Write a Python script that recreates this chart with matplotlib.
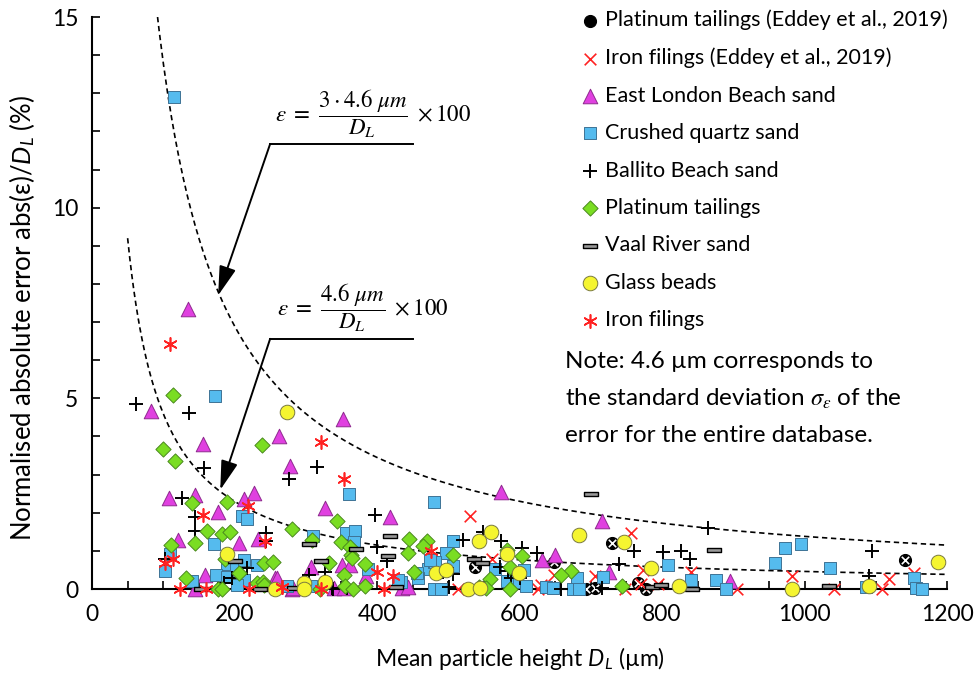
import numpy as np
import matplotlib
matplotlib.use("Agg")
import matplotlib.pyplot as plt
from matplotlib.path import Path

plt.rcParams['font.family'] = ['Lato', 'DejaVu Sans']
plt.rcParams['mathtext.fontset'] = 'custom'
plt.rcParams['mathtext.rm'] = 'Lato'
plt.rcParams['mathtext.it'] = 'Lato:italic'

# ---------------- data ----------------
eddey_pt_x = [538, 649, 693, 706, 730, 766, 777, 1141]
eddey_pt_y = [0.57, 0.71, 0.0, 0.02, 1.2, 0.17, 0.0, 0.75]

eddey_fe_x = [530, 562, 649, 706, 757, 774, 841, 514, 626, 630, 748, 770, 794, 905,
              982, 1041, 1109, 1118, 1153]
eddey_fe_y = [1.91, 0.78, 0.37, 0.34, 1.46, 0.5, 0.45, 0.0, 0.0, 0.1, 0.0, 0.13, 0.13, 0.0,
              0.34, 0.0, 0.0, 0.26, 0.43]

eastlondon_x = [135, 83, 263, 156, 278, 108, 144, 177, 214, 227, 207, 120, 233, 158, 257,
                145, 280, 352, 327, 418, 351, 362, 307, 385, 259, 282, 339, 354, 435, 444,
                574, 716, 632, 650, 725, 896]
eastlondon_y = [7.34, 4.68, 4.01, 3.8, 3.23, 2.38, 2.46, 2.03, 2.37, 2.53, 1.2, 1.29, 1.3, 0.38, 0.29,
                0.0, 0.0, 4.46, 2.13, 1.89, 0.63, 0.64, 0.57, 0.33, 0.28, 0.02, 0.02, 0.02, 0.02, 0.06,
                2.54, 1.79, 0.76, 0.9, 0.45, 0.21]

quartz_x = [115, 172, 210, 217, 171, 110, 103, 190, 202, 213, 231, 174, 189, 213, 140, 203,
            360, 480, 310, 357, 369, 368, 387, 471, 480, 434, 457, 273, 308, 507, 497, 481,
            506, 566, 592, 583, 607, 609, 681, 717, 480, 490, 637, 647, 675, 684, 808, 840,
            876, 890, 958, 973, 995, 1036, 1153, 1086, 1156, 1165, 430, 456, 474]
quartz_y = [12.9, 5.06, 1.91, 1.84, 1.17, 0.91, 0.47, 0.65, 0.61, 0.76, 0.63, 0.37, 0.31, 0.24, 0.21, 0.1,
            2.49, 2.27, 1.38, 1.46, 1.52, 1.24, 0.53, 0.52, 0.71, 0.18, 0.3, 0.07, 0.08, 1.26, 0.94, 0.7,
            0.61, 0.53, 0.18, 0.22, 0.5, 0.08, 0.28, 0.31, 0.0, 0.0, 0.05, 0.03, 0.0, 0.0, 0.63, 0.24,
            0.24, 0.0, 0.67, 1.08, 1.18, 0.56, 0.28, 0.04, 0.02, 0.0, 0.24, 0.41, 0.76]

ballito_x = [62, 136, 157, 276, 316, 126, 145, 145, 102, 218, 244, 244, 196, 185, 338, 397,
             400, 414, 327, 305, 337, 358, 549, 574, 520, 604, 624, 493, 507, 573, 588, 601,
             501, 658, 716, 864, 761, 802, 826, 839, 739, 1095, 1090, 584]
ballito_y = [4.85, 4.62, 3.17, 2.88, 3.2, 2.38, 1.89, 1.52, 0.79, 0.54, 1.46, 1.26, 0.28, 0.17, 0.0, 1.95,
             1.09, 0.74, 0.45, 0.36, 0.02, 0.02, 1.5, 1.27, 1.29, 1.08, 0.94, 0.45, 0.4, 0.58, 0.3, 0.3,
             0.05, 0.0, 0.02, 1.59, 1.0, 0.98, 1.0, 0.78, 0.66, 0.99, 0.34, 0.46]

pt_x = [114, 239, 100, 117, 141, 190, 162, 183, 194, 145, 111, 186, 206, 242, 254, 132,
        231, 240, 177, 183, 320, 344, 280, 309, 350, 362, 363, 365, 445, 470, 464, 443,
        333, 383, 452, 354, 242, 355, 366, 383, 506, 582, 603, 587, 559, 672, 658, 586,
        543, 553, 744]
pt_y = [5.1, 3.77, 3.68, 3.35, 2.26, 2.28, 1.53, 1.44, 1.5, 1.21, 1.15, 0.78, 0.43, 0.68, 0.72, 0.29,
        0.15, 0.19, 0.0, 0.0, 0.0, 1.78, 1.57, 1.29, 1.22, 1.11, 0.89, 0.8, 1.31, 1.27, 1.14, 0.95,
        0.67, 0.66, 0.45, 0.36, 0.1, 0.07, 0.0, 0.07, 0.89, 1.01, 0.86, 0.58, 0.26, 0.48, 0.37, 0.0,
        0.05, 0.03, 0.09]

vaal_x = [201, 236, 305, 371, 418, 416, 321, 284, 426, 701, 536, 548, 873, 786, 798, 842, 1035, 153]
vaal_y = [0.73, 0.0, 1.17, 1.05, 1.4, 0.87, 0.73, 0.02, 0.06, 2.49, 0.78, 0.69, 1.01, 0.06, 0.1, 0.0, 0.08, 0.0]

glass_x = [273, 190, 297, 297, 327, 257, 560, 543, 684, 582, 483, 497, 599, 528, 545, 746,
           785, 824, 983, 1091, 1188]
glass_y = [4.63, 0.93, 0.15, 0.0, 0.18, 0.0, 1.49, 1.27, 1.42, 0.92, 0.41, 0.5, 0.41, 0.0, 0.02, 1.22,
           0.54, 0.07, 0.0, 0.08, 0.7]

iron_x = [109, 321, 353, 156, 219, 243, 103, 114, 124, 160, 220, 266, 322, 267, 400, 422, 410, 476]
iron_y = [6.43, 3.86, 2.88, 1.94, 2.18, 1.25, 0.67, 0.79, 0.0, 0.0, 0.0, 0.06, 0.0, 0.05, 0.45, 0.35, 0.0, 1.0]

sigma = 4.6
lower_x = np.linspace(50, 1200, 400)
upper_x = np.linspace(92, 1200, 400)

# ---------------- figure ----------------
fig = plt.figure(figsize=(9.76, 6.74), dpi=100)
ax = fig.add_axes([92/976, 1-589/674, (947-92)/976, (589-17)/674])
ax.set_xlim(0, 1200)
ax.set_ylim(0, 15)

ax.plot(upper_x, 3*sigma*100/upper_x, ls=(0, (3.2, 2.2)), color='black', lw=1.2, zorder=1)
ax.plot(lower_x, sigma*100/lower_x, ls=(0, (3.2, 2.2)), color='black', lw=1.2, zorder=1)

vaal_marker = Path([(-1, -0.32), (1, -0.32), (1, 0.32), (-1, 0.32), (-1, -0.32)],
                   [Path.MOVETO, Path.LINETO, Path.LINETO, Path.LINETO, Path.CLOSEPOLY])

h1 = ax.scatter(eddey_pt_x, eddey_pt_y, marker='o', s=75, facecolor='black', edgecolor='black',
                lw=0.8, clip_on=False, zorder=3)
ax.scatter(eddey_pt_x, eddey_pt_y, marker='x', s=28, color='white', lw=1.2, clip_on=False, zorder=3)
h2 = ax.scatter(eddey_fe_x, eddey_fe_y, marker='x', s=70, color='#FF2222', lw=1.2, clip_on=False, zorder=3)
h3 = ax.scatter(eastlondon_x, eastlondon_y, marker='^', s=110, facecolor='#E040E0', edgecolor='#8E2A8E',
                lw=0.7, clip_on=False, zorder=3)
h4 = ax.scatter(quartz_x, quartz_y, marker='s', s=85, facecolor='#55BBEE', edgecolor='#3E7396',
                lw=0.7, clip_on=False, zorder=3)
h5 = ax.scatter(ballito_x, ballito_y, marker='+', s=110, color='black', lw=1.4, clip_on=False, zorder=3)
h6 = ax.scatter(pt_x, pt_y, marker='D', s=60, facecolor='#7ADD22', edgecolor='#4A8A1E',
                lw=0.7, clip_on=False, zorder=3)
h7 = ax.scatter(vaal_x, vaal_y, marker=vaal_marker, s=90, facecolor='#999999', edgecolor='black',
                lw=1.0, clip_on=False, zorder=3)
h8 = ax.scatter(glass_x, glass_y, marker='o', s=110, facecolor='#F5F530', edgecolor='#7A7A40',
                lw=0.7, clip_on=False, zorder=3)
h9 = ax.scatter(iron_x, iron_y, marker=(6, 2, 0), s=90, color='#FF2222', lw=1.2, clip_on=False, zorder=3)

labels = ['Platinum tailings (Eddey et al., 2019)', 'Iron filings (Eddey et al., 2019)',
          'East London Beach sand', 'Crushed quartz sand', 'Ballito Beach sand',
          'Platinum tailings', 'Vaal River sand', 'Glass beads', 'Iron filings']
leg = fig.legend([h1, h2, h3, h4, h5, h6, h7, h8, h9], labels, loc='upper left',
                 bbox_to_anchor=(573/976, 1-1/674), frameon=False, fontsize=15.5,
                 handlelength=0.8, handletextpad=0.3, labelspacing=0.81, borderaxespad=0)

# annotations
eq_kw = dict(fontsize=16.5, math_fontfamily='stix', ha='center', va='center')
ax.text(395, 12.45, r'$\varepsilon\ =\ \dfrac{3 \cdot 4.6\ \mu m}{D_L}\ \times 100$', **eq_kw)
ax.text(380, 7.38, r'$\varepsilon\ =\ \dfrac{4.6\ \mu m}{D_L}\ \times 100$', **eq_kw)

ax.plot([250, 450], [11.67, 11.67], color='black', lw=1.4)
ax.plot([250, 450], [6.56, 6.56], color='black', lw=1.4)
ap = dict(arrowstyle='-|>,head_length=0.9,head_width=0.26', color='black', lw=1.4,
          shrinkA=0, shrinkB=0, mutation_scale=20)
ax.annotate('', xy=(177, 7.7), xytext=(250, 11.67), arrowprops=ap)
ax.annotate('', xy=(180, 2.6), xytext=(250, 6.56), arrowprops=ap)

note_lines = ['Note: 4.6 µm corresponds to',
              r'the standard deviation $\sigma_\varepsilon$ of the',
              'error for the entire database.']
for i, line in enumerate(note_lines):
    fig.text(565/976, 1-(362+37*i)/674, line, fontsize=17.5, ha='left', va='center',
             math_fontfamily='stix')

# axes styling
for side in ['top', 'right']:
    ax.spines[side].set_visible(False)
for side in ['left', 'bottom']:
    ax.spines[side].set_linewidth(1.5)
ax.set_xticks(np.arange(0, 1201, 200))
ax.set_xticks(np.arange(0, 1201, 50), minor=True)
ax.set_yticks([0, 5, 10, 15])
ax.set_yticks(np.arange(0, 16, 1), minor=True)
ax.tick_params(which='both', direction='in', length=6, width=1.2, labelsize=16.5)
ax.tick_params(axis='x', pad=11)
ax.tick_params(axis='y', pad=10)

ax.set_xlabel(r'Mean particle height $D_L$ (µm)', fontsize=16.5, labelpad=14)
fig.text(22/976, 1-318/674, r'Normalised absolute error abs(ε)/$D_L$ (%)', fontsize=18.5,
         rotation=90, ha='center', va='center')

fig.savefig('out.png', dpi=100)
